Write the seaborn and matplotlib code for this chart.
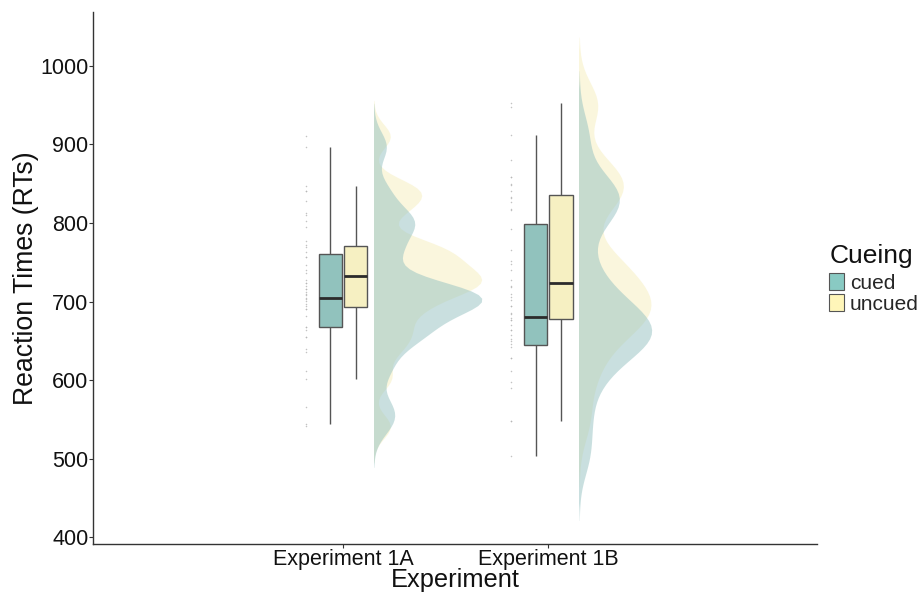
import numpy as np
import pandas as pd
import matplotlib
matplotlib.use("Agg")
import matplotlib.pyplot as plt
from matplotlib.transforms import Affine2D
from matplotlib.patches import Rectangle, Patch
import seaborn as sns

# Reaction times (ms) per participant, by experiment and cueing condition
exp_1a_cued = [544, 566, 612, 640, 655, 664, 668, 682, 690, 697, 701, 703,
               705, 708, 712, 716, 724, 757, 772, 795, 802, 810, 840, 897]
exp_1a_uncued = [541, 602, 636, 655, 668, 690, 694, 710, 716, 720, 723, 728,
                 736, 740, 747, 756, 763, 769, 777, 812, 828, 840, 847, 910]
exp_1b_cued = [503, 548, 590, 612, 628, 642, 646, 652, 658, 664, 670, 676,
               684, 694, 706, 720, 748, 792, 816, 826, 833, 840, 858, 912]
exp_1b_uncued = [548, 598, 628, 650, 664, 676, 679, 686, 694, 702, 710, 718,
                 728, 740, 752, 766, 818, 832, 848, 850, 858, 880, 948, 953]

experiments = ["Experiment 1A", "Experiment 1B"]
conditions = ["cued", "uncued"]
y_ticks = [400, 500, 600, 700, 800, 900, 1000]

groups = {
    ("Experiment 1A", "cued"): exp_1a_cued,
    ("Experiment 1A", "uncued"): exp_1a_uncued,
    ("Experiment 1B", "cued"): exp_1b_cued,
    ("Experiment 1B", "uncued"): exp_1b_uncued,
}
rows = [(e, c, v) for (e, c), vals in groups.items() for v in vals]
df = pd.DataFrame(rows, columns=["Experiment", "Cueing", "RT"])

box_colors = {"cued": "#89CAC3", "uncued": "#FFF6B9"}
cloud_colors = {"cued": "#8DC8C8", "uncued": "#FFF5B4"}


def nrd0_factor(kde):
    """Silverman's rule of thumb (R's bw.nrd0), as a factor of the data sd."""
    x = np.asarray(kde.dataset).ravel()
    sd = x.std(ddof=1)
    q75, q25 = np.percentile(x, [75, 25])
    bw = 0.9 * min(sd, (q75 - q25) / 1.34) * len(x) ** (-0.2)
    return bw / sd


sns.set_style("white")
plt.rcParams["font.family"] = ["Liberation Sans", "DejaVu Sans"]

fig = plt.figure(figsize=(9.22, 5.98), dpi=100)
ax = fig.add_axes([93 / 922, 1 - 544 / 598, (817 - 93) / 922, (544 - 11.7) / 598])

cloud_shift = 0.15
rain_shift = -0.18

# Half-violin "clouds": uncued first so the cued density sits on top
n0 = len(ax.collections)
sns.violinplot(data=df, x="Experiment", y="RT", hue="Cueing",
               order=experiments, hue_order=["uncued", "cued"],
               palette=cloud_colors, dodge=False, inner=None,
               density_norm="area", width=1.05, cut=3,
               bw_method=nrd0_factor, bw_adjust=0.55,
               linewidth=0, alpha=0.5, legend=False, ax=ax)
for coll in ax.collections[n0:]:
    verts = np.concatenate([p.vertices for p in coll.get_paths()])
    center = (verts[:, 0].min() + verts[:, 0].max()) / 2
    coll.set_transform(Affine2D().translate(cloud_shift, 0) + ax.transData)
    clip = Rectangle((center + cloud_shift, -1e4), 10, 2e4, transform=ax.transData)
    coll.set_clip_path(clip)
    coll.set_zorder(1)

# Raw observations ("rain") to the left of the boxes
n1 = len(ax.collections)
sns.stripplot(data=df, x="Experiment", y="RT", order=experiments,
              color="#b4b4b4", size=1.1, jitter=False, alpha=0.8, ax=ax)
for coll in ax.collections[n1:]:
    coll.set_offset_transform(Affine2D().translate(rain_shift, 0) + ax.transData)

# Dodged boxplots per condition
sns.boxplot(data=df, x="Experiment", y="RT", hue="Cueing",
            order=experiments, hue_order=conditions, palette=box_colors,
            width=0.248, gap=0.08, showfliers=False, showcaps=False,
            linecolor="#555555", linewidth=1.0,
            medianprops={"color": "#2b2b2b", "linewidth": 2.0},
            legend=False, ax=ax)

ax.set_xlim(-1.217, 2.307)
ax.set_ylim(391.5, 1068.7)
ax.set_yticks(y_ticks)
ax.set_yticklabels([str(t) for t in y_ticks])

for side in ["top", "right"]:
    ax.spines[side].set_visible(False)
for side in ["left", "bottom"]:
    ax.spines[side].set_color("#333333")
    ax.spines[side].set_linewidth(1.0)

ax.tick_params(axis="both", which="both", direction="out", length=2.8,
               width=0.8, color="#333333", labelsize=15.5, labelcolor="#111111",
               pad=0.6, left=True, bottom=True)
ax.set_xlabel("Experiment", fontsize=18.3, color="#111111", labelpad=-1)
ax.set_ylabel("Reaction Times (RTs)", fontsize=19.2, color="#111111", labelpad=1)

# Legend: title placed as its own text, condition keys beneath it
fig.text(830 / 922, 1 - 256 / 598, "Cueing", fontsize=19, color="#111111",
         ha="left", va="center")
handles = [Patch(facecolor=box_colors[c], edgecolor="#555555", linewidth=0.8)
           for c in conditions]
leg = fig.legend(handles, conditions, loc="upper left",
                 bbox_to_anchor=(829 / 922, 1 - 273 / 598), frameon=False,
                 fontsize=15, handlelength=0.7,
                 handleheight=0.9, handletextpad=0.3, labelspacing=0.05,
                 borderaxespad=0, borderpad=0)

fig.savefig("out.png", dpi=100)
